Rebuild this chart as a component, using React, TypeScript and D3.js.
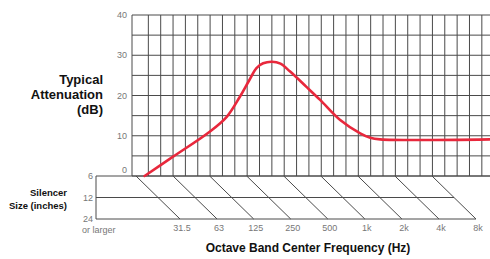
import React from 'react';
import * as d3 from 'd3';

// curve read at the 6" row of the chart
const curveFreq = [37, 63, 125, 172, 220, 260, 300, 340, 400, 470, 560, 760, 987, 1436, 2088, 2518, 3035, 24000];
const curveDb = [0, 4.8, 11, 14.7, 19.7, 23.6, 26.8, 28.0, 28.4, 27.9, 26.0, 22.2, 18.9, 13.9, 10.6, 9.5, 9.1, 9.1];

const bandLabels = ['31.5', '63', '125', '250', '500', '1k', '2k', '4k', '8k'];
const bandFreqs = [31.5, 63, 125, 250, 500, 1000, 2000, 4000, 8000];
const sizeLabels = ['6', '12', '24'];
const dbTicks = [0, 10, 20, 30, 40];

const App = () => {
  const Width = 490;
  const Height = 259;
  const gridLeft = 132;
  const gridRight = 495;

  const xTop = d3.scaleLog().domain([31.5, 8000]).range([136, 432]);
  const xBottom = d3.scaleLog().domain([31.5, 8000]).range([180, 476]);
  const yScale = d3.scaleLinear().domain([0, 40]).range([176, 15]);
  const sizeScale = d3.scalePoint().domain(sizeLabels).range([176, 219]);

  const thirdOctaves = d3.range(1, 30).map((k) => 31.5 * Math.pow(2, k / 3)).filter((f) => xTop(f) < gridRight);
  const hLines = d3.range(0, 41, 5);

  const line = d3
    .line<number>()
    .x((d, i) => xTop(curveFreq[i]))
    .y((d) => yScale(d))
    .curve(d3.curveCatmullRom.alpha(0.5));

  const gridColor = '#4a4a4a';
  const font = 'Arial, "Liberation Sans", sans-serif';

  // x where a band diagonal crosses a given row
  const diagX = (f, y) => xTop(f) + ((xBottom(f) - xTop(f)) * (y - 176)) / (219 - 176);

  return (
    <svg width={Width} height={Height} style={{ position: 'absolute', left: 0, top: 0 }} fontFamily={font}>
      <rect width={Width} height={Height} fill="#fff" />
      {/* grid */}
      <g stroke={gridColor} strokeWidth={1}>
        <line x1={gridLeft} x2={gridLeft} y1={yScale(40)} y2={yScale(0)} />
        {thirdOctaves.map((f, i) => (
          <line key={i} x1={xTop(f)} x2={xTop(f)} y1={yScale(40)} y2={yScale(0)} />
        ))}
        {hLines.map((v) => (
          <line key={v} x1={gridLeft} x2={gridRight} y1={yScale(v)} y2={yScale(v)} />
        ))}
      </g>
      {dbTicks.map((v) => (
        <text key={v} x={127} y={v === 0 ? yScale(v) - 3 : yScale(v) + 3} textAnchor="end" fontSize={9} fill="#777">
          {v}
        </text>
      ))}
      <g fontSize={13} fontWeight="bold" textAnchor="end" fill="#111">
        <text x={103} y={84}>Typical</text>
        <text x={103} y={99}>Attenuation</text>
        <text x={103} y={114}>(dB)</text>
      </g>

      {/* silencer size panel */}
      <g stroke={gridColor} strokeWidth={1} fill="none">
        <line x1={96} x2={96} y1={sizeScale('6')} y2={sizeScale('24')} />
        <line x1={96} x2={gridRight} y1={sizeScale('6')} y2={sizeScale('6')} />
        <line x1={96} x2={diagX(8000, sizeScale('12'))} y1={sizeScale('12')} y2={sizeScale('12')} />
        <line x1={96} x2={xBottom(8000)} y1={sizeScale('24')} y2={sizeScale('24')} />
        {bandFreqs.map((f, i) => (
          <line key={i} x1={xTop(f)} y1={sizeScale('6')} x2={xBottom(f)} y2={sizeScale('24')} />
        ))}
      </g>
      {sizeLabels.map((s) => (
        <text key={s} x={93} y={sizeScale(s) + 3} textAnchor="end" fontSize={9} fill="#777">
          {s}
        </text>
      ))}
      <text x={82} y={233} fontSize={9} fill="#777">or larger</text>
      <g fontSize={9.5} fontWeight="bold" textAnchor="end" fill="#111">
        <text x={67} y={196}>Silencer</text>
        <text x={67} y={209}>Size (inches)</text>
      </g>
      {bandLabels.map((l, i) => (
        <text key={l} x={xBottom(bandFreqs[i]) + 2} y={231} textAnchor="middle" fontSize={9} fill="#777">
          {l}
        </text>
      ))}
      <text x={308} y={252} textAnchor="middle" fontSize={12} fontWeight="bold" fill="#111">
        Octave Band Center Frequency (Hz)
      </text>

      {/* curve */}
      <path d={line(curveDb) || ''} fill="none" stroke="#e8283c" strokeWidth={2.6} strokeLinecap="round" />
    </svg>
  );
};

export default App;
